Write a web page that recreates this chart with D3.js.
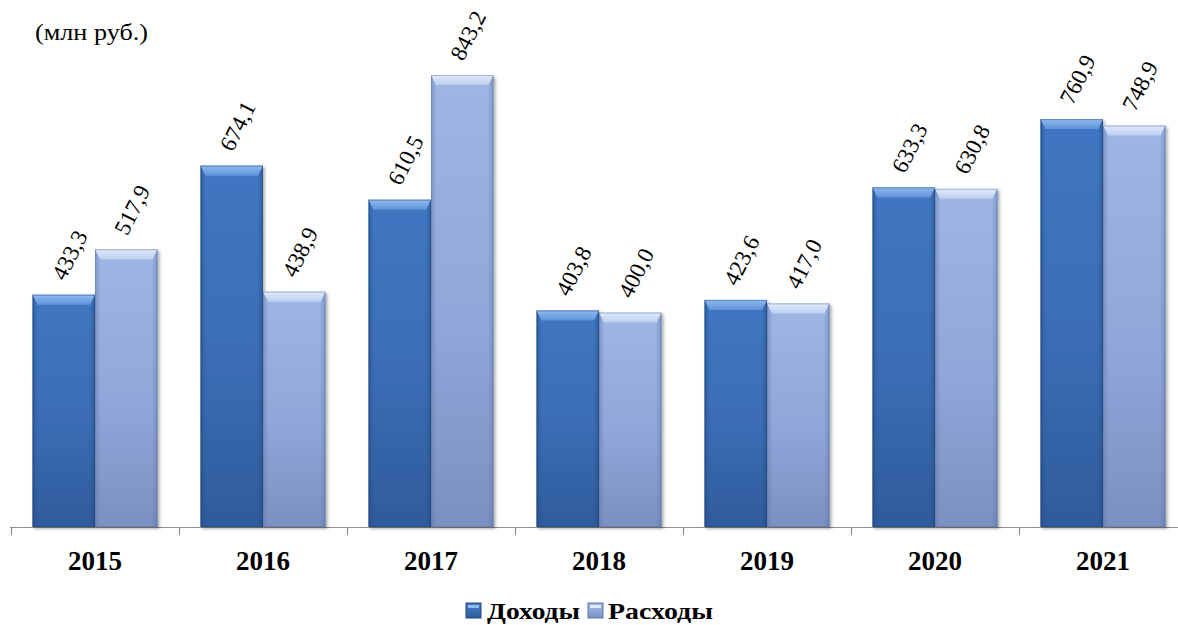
<!DOCTYPE html>
<html>
<head>
<meta charset="utf-8">
<script src="https://cdn.jsdelivr.net/npm/d3@7"></script>
<style>
  body { margin: 0; background: #fff; }
  svg { display: block; }
</style>
</head>
<body>
<svg id="chart" width="1178" height="625" font-family="'Liberation Serif', 'Times New Roman', serif"></svg>
<script>
// Budget figures, million rubles
const years = ["2015", "2016", "2017", "2018", "2019", "2020", "2021"];
const seriesNames = ["Доходы", "Расходы"];
const income = [433.3, 674.1, 610.5, 403.8, 423.6, 633.3, 760.9];
const expense = [517.9, 438.9, 843.2, 400.0, 417.0, 630.8, 748.9];
const unitLabel = "(млн руб.)";

const W = 1178;
const baseY = 527;
const svg = d3.select("#chart");

const x = d3.scaleBand().domain(years).range([11, 1187])
  .paddingInner(0.256).paddingOuter(0.128);
const xs = d3.scaleBand().domain(seriesNames).range([0, x.bandwidth()]);
const y = d3.scaleLinear().domain([0, 843.2]).range([baseY, 75]);

const fmt = v => d3.format(".1f")(v).replace(".", ",");

// gradients for each series
const defs = svg.append("defs");
const palette = {
  "Доходы": { top: "#4077c2", mid: "#3a6db4", bot: "#2e5b9b", bevel: "#5f93d8", bevelHi: "#8fbaf0", side: "#23497e" },
  "Расходы": { top: "#9db6e4", mid: "#8fa8d9", bot: "#7a90c1", bevel: "#bccff0", bevelHi: "#dfeafb", side: "#5f75a6" }
};
seriesNames.forEach((s, i) => {
  const p = palette[s];
  const g = defs.append("linearGradient").attr("id", "body" + i)
    .attr("x1", 0).attr("y1", 0).attr("x2", 0).attr("y2", 1);
  g.append("stop").attr("offset", "0%").attr("stop-color", p.top);
  g.append("stop").attr("offset", "55%").attr("stop-color", p.mid);
  g.append("stop").attr("offset", "100%").attr("stop-color", p.bot);
  const b = defs.append("linearGradient").attr("id", "bevel" + i)
    .attr("x1", 0).attr("y1", 0).attr("x2", 0).attr("y2", 1);
  b.append("stop").attr("offset", "0%").attr("stop-color", p.bevelHi);
  b.append("stop").attr("offset", "100%").attr("stop-color", p.bevel);
  const h = defs.append("linearGradient").attr("id", "horiz" + i)
    .attr("x1", 0).attr("y1", 0).attr("x2", 1).attr("y2", 0);
  h.append("stop").attr("offset", "0%").attr("stop-color", p.side).attr("stop-opacity", 0.5);
  h.append("stop").attr("offset", "9%").attr("stop-color", p.side).attr("stop-opacity", 0);
  h.append("stop").attr("offset", "91%").attr("stop-color", p.side).attr("stop-opacity", 0);
  h.append("stop").attr("offset", "100%").attr("stop-color", p.side).attr("stop-opacity", 0.5);
});
const shadow = defs.append("filter").attr("id", "shadow")
  .attr("x", "-10%").attr("y", "-5%").attr("width", "125%").attr("height", "115%");
shadow.append("feDropShadow").attr("dx", 2).attr("dy", 2).attr("stdDeviation", 1.5)
  .attr("flood-color", "#000").attr("flood-opacity", 0.3);

// unit caption
svg.append("text").attr("x", 35).attr("y", 40).attr("font-size", 24)
  .attr("textLength", 113).attr("lengthAdjust", "spacingAndGlyphs").text(unitLabel);

// axis line and category ticks
const axis = svg.append("g");
axis.append("line").attr("x1", 10).attr("x2", W).attr("y1", baseY + 0.5).attr("y2", baseY + 0.5)
  .attr("stroke", "#8c8c8c").attr("stroke-width", 1.2);
const bounds = years.map(yv => x(yv) - (x.step() - x.bandwidth()) / 2);
bounds.push(bounds[bounds.length - 1] + x.step());
axis.selectAll("line.tick").data(bounds).join("line").attr("class", "tick")
  .attr("x1", d => d + 0.5).attr("x2", d => d + 0.5)
  .attr("y1", baseY).attr("y2", baseY + 8)
  .attr("stroke", "#8c8c8c").attr("stroke-width", 1.2);
axis.selectAll("text.cat").data(years).join("text").attr("class", "cat")
  .attr("x", d => x(d) + x.bandwidth() / 2).attr("y", 570)
  .attr("text-anchor", "middle").attr("font-size", 27).attr("font-weight", "bold")
  .text(d => d);

// bars
const rows = years.map((yr, i) => ({ yr, vals: [income[i], expense[i]] }));
const bevelH = 10, sideW = 5;
rows.forEach(r => {
  r.vals.forEach((v, si) => {
    const s = seriesNames[si];
    const bx = x(r.yr) + xs(s), bw = xs.bandwidth();
    const top = y(v), h = baseY - top;
    const g = svg.append("g").attr("filter", "url(#shadow)");
    g.append("rect").attr("x", bx).attr("y", top).attr("width", bw).attr("height", h)
      .attr("fill", `url(#body${si})`);
    g.append("rect").attr("x", bx).attr("y", top).attr("width", bw).attr("height", h)
      .attr("fill", `url(#horiz${si})`);
    g.append("path")
      .attr("d", `M${bx},${top} L${bx + bw},${top} L${bx + bw - sideW},${top + bevelH} L${bx + sideW},${top + bevelH} Z`)
      .attr("fill", `url(#bevel${si})`);
    g.append("rect").attr("x", bx + 0.5).attr("y", top + 0.5).attr("width", bw - 1).attr("height", h - 1)
      .attr("fill", "none").attr("stroke", palette[s].side).attr("stroke-opacity", 0.45);
    // value label
    const lx = bx + bw / 2 + 1, ly = top - 13;
    svg.append("text").attr("transform", `translate(${lx},${ly}) rotate(-63)`)
      .attr("font-size", 23).text(fmt(v));
  });
});

// legend
const legend = svg.append("g");
const items = [
  { name: seriesNames[0], x: 466, tx: 487, len: 93 },
  { name: seriesNames[1], x: 588, tx: 608, len: 105 }
];
items.forEach((it, i) => {
  const p = palette[seriesNames[i]];
  legend.append("rect").attr("x", it.x).attr("y", 603).attr("width", 15).attr("height", 15)
    .attr("fill", `url(#body${i})`).attr("stroke", p.side).attr("stroke-width", 1);
  legend.append("rect").attr("x", it.x + 2).attr("y", 605).attr("width", 11).attr("height", 3)
    .attr("fill", p.bevelHi);
  legend.append("text").attr("x", it.tx).attr("y", 619).attr("font-size", 23)
    .attr("font-weight", "bold").attr("textLength", it.len).attr("lengthAdjust", "spacingAndGlyphs")
    .text(it.name);
});
</script>
</body>
</html>
